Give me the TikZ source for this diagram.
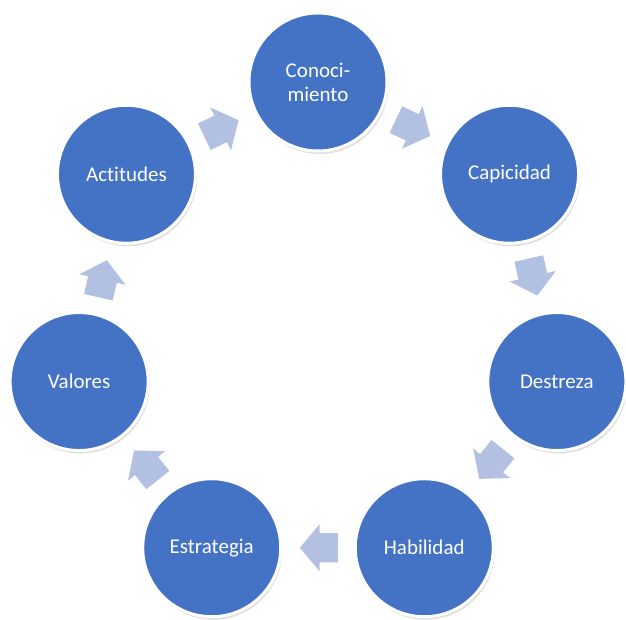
\documentclass[tikz,border=0pt]{standalone}
\usepackage{fontspec}
\setmainfont{Carlito}[Ligatures=NoCommon]
\usepackage{tikz}
\usetikzlibrary{shapes.arrows}
\usetikzlibrary{shadows}
\usetikzlibrary{calc}
\definecolor{stepblue}{RGB}{68,114,196}
\definecolor{arrowblue}{RGB}{178,193,225}
\tikzset{
  stepcircle/.style={
    circle,
    draw=white,
    line width=3pt,
    fill=stepblue,
    minimum size=138pt,
    inner sep=0pt,
    align=center,
    text=white,
    font=\fontsize{21}{24}\selectfont,
    drop shadow={opacity=0.25, shadow xshift=1.5pt, shadow yshift=-3pt}
  },
  cyclearrow/.style={
    single arrow,
    fill=arrowblue,
    draw=none,
    inner xsep=0pt,
    inner ysep=14.5pt,
    minimum height=38pt,
    single arrow head extend=9pt,
    single arrow tip angle=100
  },
  turned/.style={rotate=#1, xshift=-7pt}
}

\begin{document}
\begin{tikzpicture}[x=1pt, y=1pt]
    \useasboundingbox (-318,-293) rectangle (308,327);

    \node [stepcircle] (con) at (  90.00:245) {Conoci-\\miento};
    \node [stepcircle] (cap) at (  38.57:245) {Capicidad};
    \node [stepcircle] (des) at ( -12.86:245) {Destreza};
    \node [stepcircle] (hab) at ( -64.29:245) {Habilidad};
    \node [stepcircle] (est) at (-115.71:245) {Estrategia};
    \node [stepcircle] (val) at (-167.14:245) {Valores};
    \node [stepcircle] (act) at ( 141.43:245) {Actitudes};

    % arrows between the steps, clockwise
    \node [cyclearrow, turned= -25.71] (conarrow) at ($(con)!0.5!(cap)$) {};
    \node [cyclearrow, turned= -77.14] (caparrow) at ($(cap)!0.5!(des)$) {};
    \node [cyclearrow, turned=-128.57] (desarrow) at ($(des)!0.5!(hab)$) {};
    \node [cyclearrow, turned= 180.00] (habarrow) at ($(hab)!0.5!(est)$) {};
    \node [cyclearrow, turned= 128.57] (estarrow) at ($(est)!0.5!(val)$) {};
    \node [cyclearrow, turned=  77.14] (valarrow) at ($(val)!0.5!(act)$) {};
    \node [cyclearrow, turned=  25.71] (actarrow) at ($(act)!0.5!(con)$) {};
  \end{tikzpicture}
\end{document}
